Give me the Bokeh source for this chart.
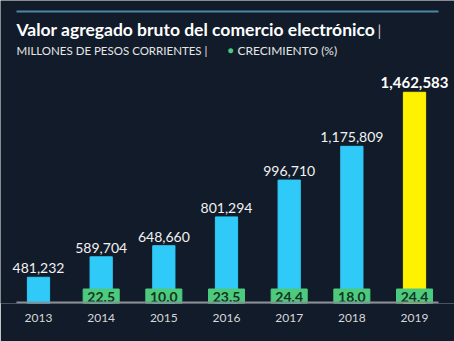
from bokeh.plotting import figure
from bokeh.models import ColumnDataSource, Range1d, Label, BoxAnnotation, FixedTicker
from bokeh.core.properties import value
from bokeh.embed import file_html
from bokeh.resources import INLINE

# ---- data ----
years = [2013, 2014, 2015, 2016, 2017, 2018, 2019]
vab = [481232, 589704, 648660, 801294, 996710, 1175809, 1462583]
growth = [None, 22.5, 10.0, 23.5, 24.4, 18.0, 24.4]
title_text = "Valor agregado bruto del comercio electrónico"
subtitle_text = "MILLONES DE PESOS CORRIENTES |"
legend_text = "CRECIMIENTO (%)"

# ---- style ----
BG = "#111b29"
BLUE = "#2fcaf7"
YELLOW = "#fff200"
GREEN = "#4ccb7e"
FONT = "Lato"

W, H = 454, 341
bottom = 38
frame_h = H - bottom
y_start = 342000
units_per_px = 5305
y_end = y_start + frame_h * units_per_px
px_per_year = 62.67
x_start = 2013 - 38 / px_per_year
x_end = x_start + W / px_per_year

p = figure(width=W, height=H, output_backend="svg", toolbar_location=None,
           x_range=Range1d(x_start, x_end), y_range=Range1d(y_start, y_end),
           min_border_left=0, min_border_right=0, min_border_top=0,
           min_border_bottom=bottom, background_fill_color=BG,
           border_fill_color=BG, outline_line_color=None)
p.grid.visible = False
p.yaxis.visible = False

xa = p.xaxis[0]
xa.ticker = FixedTicker(ticks=years)
xa.axis_line_color = None
xa.major_tick_line_color = None
xa.minor_tick_line_color = None
xa.major_label_text_color = "#d8d8d8"
xa.major_label_text_font = FONT
xa.major_label_text_font_size = "12px"
xa.major_label_standoff = 4

colors = [BLUE] * (len(years) - 1) + [YELLOW]
src = ColumnDataSource(dict(x=years, top=vab, color=colors))
p.vbar(x="x", top="top", bottom=y_start, width=0.355, color="color", source=src)

# baseline (axis line) and header rule
p.add_layout(BoxAnnotation(left=16, right=438, bottom=0, top=2, left_units="screen",
                           right_units="screen", bottom_units="screen", top_units="screen",
                           fill_color="#8a8f96", fill_alpha=1, line_color=None))
p.add_layout(BoxAnnotation(left=16, right=438, bottom=frame_h - 12, top=frame_h - 10,
                           left_units="screen", right_units="screen", bottom_units="screen",
                           top_units="screen", fill_color="#4f87a3", fill_alpha=1,
                           line_color=None))

# value labels
norm = ColumnDataSource(dict(x=years[:-1], y=vab[:-1], t=["{:,}".format(v) for v in vab[:-1]]))
p.text(x="x", y="y", text="t", source=norm, text_align="center", text_baseline="alphabetic",
       y_offset=-9, text_color="#f2f2f2", text_font=value(FONT), text_font_size="14px")
last = ColumnDataSource(dict(x=years[-1:], y=vab[-1:], t=["{:,}".format(v) for v in vab[-1:]]))
p.text(x="x", y="y", text="t", source=last, text_align="center", text_baseline="alphabetic",
       y_offset=-10, text_color="#ffffff", text_font=value(FONT), text_font_size="15px",
       text_font_style="bold")

# growth boxes
gy = [y for y, g in zip(years, growth) if g is not None]
gv = [g for g in growth if g is not None]
box_px = 14.5
gsrc = ColumnDataSource(dict(x=gy, top=[y_start + box_px * units_per_px] * len(gy),
                             y=[y_start] * len(gy), t=["{:.1f}".format(g) for g in gv]))
p.vbar(x="x", top="top", bottom=y_start, width=0.575, color=GREEN, source=gsrc)
p.text(x="x", y="y", text="t", source=gsrc, text_align="center", text_baseline="middle",
       y_offset=-7, text_color="#15351f", text_font=value(FONT), text_font_size="14px",
       text_font_style="bold")

# header
p.add_layout(Label(x=16, y=frame_h - 29, x_units="screen", y_units="screen", text=title_text,
                   text_font=FONT, text_font_size="17.5px", text_font_style="bold",
                   text_color="#ffffff", text_baseline="alphabetic"))
p.add_layout(Label(x=377, y=frame_h - 29, x_units="screen", y_units="screen", text="|",
                   text_font=FONT, text_font_size="15px", text_color="#cfcfcf",
                   text_baseline="alphabetic"))
p.add_layout(Label(x=16, y=frame_h - 50, x_units="screen", y_units="screen", text=subtitle_text,
                   text_font=FONT, text_font_size="11.5px", text_color="#e6e6e6",
                   text_baseline="alphabetic"))
p.add_layout(Label(x=227, y=frame_h - 49.5, x_units="screen", y_units="screen", text="●",
                   text_font=FONT, text_font_size="10px", text_color=GREEN,
                   text_baseline="alphabetic"))
p.add_layout(Label(x=237, y=frame_h - 50, x_units="screen", y_units="screen", text=legend_text,
                   text_font=FONT, text_font_size="12px", text_color="#e6e6e6",
                   text_baseline="alphabetic"))

open("out.html", "w").write(file_html(p, INLINE))
